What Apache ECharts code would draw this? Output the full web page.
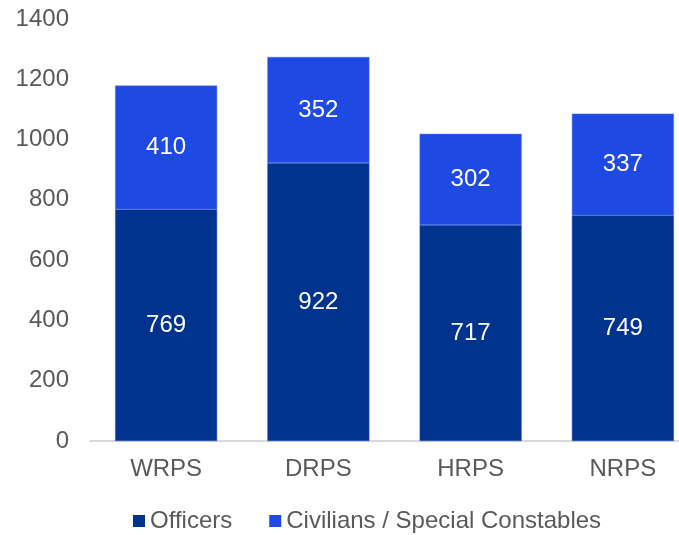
<!DOCTYPE html>
<html>
<head>
<meta charset="utf-8">
<script src="https://cdn.jsdelivr.net/npm/echarts@6/dist/echarts.min.js"></script>
<style>
  html, body { margin: 0; padding: 0; background: #fff; }
  #chart { width: 679px; height: 535px; }
</style>
</head>
<body>
<div id="chart"></div>
<script>
const categories = ['WRPS', 'DRPS', 'HRPS', 'NRPS'];
const officers = [769, 922, 717, 749];
const civilians = [410, 352, 302, 337];
const yTicks = [0, 200, 400, 600, 800, 1000, 1200, 1400];

const font = '"Liberation Sans", Arial, sans-serif';
const myChart = echarts.init(document.getElementById('chart'));

const option = {
  animation: false,
  textStyle: { fontFamily: font },
  legend: {
    top: 509,
    left: 133,
    padding: 0,
    itemWidth: 12,
    itemHeight: 12,
    itemGap: 37,
    icon: 'rect',
    itemStyle: { borderWidth: 0 },
    textStyle: { fontSize: 24, color: '#595959', fontFamily: font },
    data: ['Officers', 'Civilians / Special Constables']
  },
  grid: {
    left: 90,
    top: 19,
    width: 609,
    height: 422,
    outerBoundsMode: 'none',
    containLabel: false
  },
  xAxis: {
    type: 'category',
    data: categories,
    axisLine: { lineStyle: { color: '#d9d9d9', width: 2 } },
    axisTick: { show: false },
    axisLabel: { fontSize: 24, color: '#595959', margin: 16, fontFamily: font }
  },
  yAxis: {
    type: 'value',
    min: yTicks[0],
    max: yTicks[yTicks.length - 1],
    interval: 200,
    splitLine: { show: false },
    axisLine: { show: false },
    axisTick: { show: false },
    axisLabel: {
      fontSize: 24, color: '#595959', margin: 21, fontFamily: font,
      formatter: v => String(v)
    }
  },
  series: [
    {
      name: 'Officers',
      type: 'bar',
      stack: 'total',
      barWidth: '67%',
      data: officers,
      itemStyle: { color: '#00338d', borderColor: '#2d56c8', borderWidth: 0.5 },
      label: { show: true, position: 'inside', color: '#fff', fontSize: 24, fontFamily: font }
    },
    {
      name: 'Civilians / Special Constables',
      type: 'bar',
      stack: 'total',
      data: civilians,
      itemStyle: { color: '#1e49e2', borderColor: '#4a6ff0', borderWidth: 0.5 },
      label: { show: true, position: 'inside', color: '#fff', fontSize: 24, fontFamily: font }
    }
  ]
};

myChart.setOption(option);
</script>
</body>
</html>
